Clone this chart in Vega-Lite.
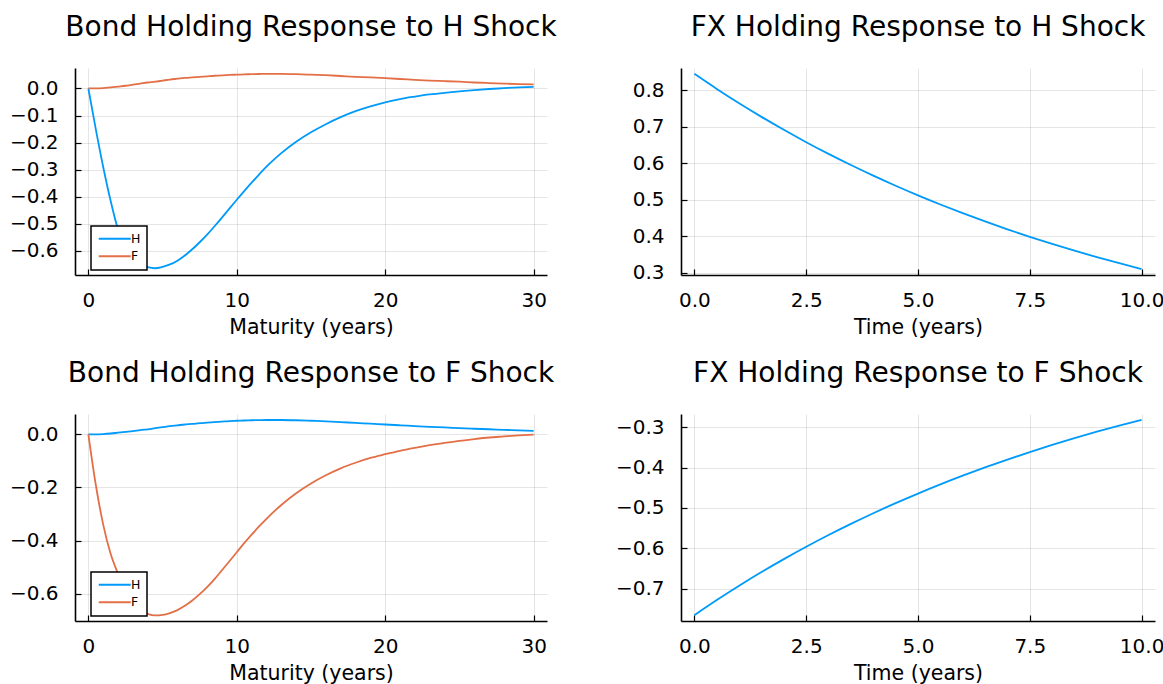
{
  "$schema": "https://vega.github.io/schema/vega-lite/v6.json",
  "autosize": {"type": "pad"},
  "padding": {"left": 9, "top": 13, "right": 0, "bottom": 0},
  "background": "white",
  "datasets": {
    "bondH": [
      {"m": 0, "H": 0, "F": 0},
      {"m": 0.5, "H": -0.15, "F": 0.0},
      {"m": 1, "H": -0.29, "F": 0.001},
      {"m": 1.5, "H": -0.415, "F": 0.004},
      {"m": 2, "H": -0.52, "F": 0.007},
      {"m": 2.5, "H": -0.577, "F": 0.01},
      {"m": 3, "H": -0.617, "F": 0.014},
      {"m": 3.5, "H": -0.645, "F": 0.018},
      {"m": 4, "H": -0.66, "F": 0.022},
      {"m": 4.5, "H": -0.664, "F": 0.025},
      {"m": 5, "H": -0.659, "F": 0.029},
      {"m": 5.5, "H": -0.65, "F": 0.033},
      {"m": 6, "H": -0.636, "F": 0.036},
      {"m": 6.5, "H": -0.617, "F": 0.039},
      {"m": 7, "H": -0.594, "F": 0.041},
      {"m": 7.5, "H": -0.568, "F": 0.043},
      {"m": 8, "H": -0.54, "F": 0.045},
      {"m": 8.5, "H": -0.509, "F": 0.047},
      {"m": 9, "H": -0.477, "F": 0.048},
      {"m": 9.5, "H": -0.444, "F": 0.05},
      {"m": 10, "H": -0.411, "F": 0.051},
      {"m": 10.5, "H": -0.379, "F": 0.052},
      {"m": 11, "H": -0.348, "F": 0.053},
      {"m": 11.5, "H": -0.318, "F": 0.0535},
      {"m": 12, "H": -0.289, "F": 0.054},
      {"m": 12.5, "H": -0.263, "F": 0.054},
      {"m": 13, "H": -0.239, "F": 0.054},
      {"m": 14, "H": -0.197, "F": 0.053},
      {"m": 15, "H": -0.162, "F": 0.051},
      {"m": 16, "H": -0.132, "F": 0.049},
      {"m": 17, "H": -0.106, "F": 0.046},
      {"m": 18, "H": -0.084, "F": 0.043},
      {"m": 19, "H": -0.066, "F": 0.041},
      {"m": 20, "H": -0.051, "F": 0.038},
      {"m": 21, "H": -0.039, "F": 0.035},
      {"m": 22, "H": -0.03, "F": 0.032},
      {"m": 23, "H": -0.022, "F": 0.029},
      {"m": 24, "H": -0.016, "F": 0.027},
      {"m": 25, "H": -0.011, "F": 0.025},
      {"m": 26, "H": -0.006, "F": 0.022},
      {"m": 27, "H": -0.002, "F": 0.02},
      {"m": 28, "H": 0.001, "F": 0.018},
      {"m": 29, "H": 0.004, "F": 0.016},
      {"m": 30, "H": 0.006, "F": 0.015}
    ],
    "bondF": [
      {"m": 0, "H": 0, "F": 0},
      {"m": 0.5, "H": 0.0, "F": -0.19},
      {"m": 1, "H": 0.001, "F": -0.34},
      {"m": 1.5, "H": 0.003, "F": -0.45},
      {"m": 2, "H": 0.006, "F": -0.525},
      {"m": 2.5, "H": 0.009, "F": -0.59},
      {"m": 3, "H": 0.012, "F": -0.632},
      {"m": 3.5, "H": 0.016, "F": -0.66},
      {"m": 4, "H": 0.019, "F": -0.676},
      {"m": 4.5, "H": 0.023, "F": -0.682},
      {"m": 5, "H": 0.027, "F": -0.68},
      {"m": 5.5, "H": 0.031, "F": -0.673},
      {"m": 6, "H": 0.034, "F": -0.662},
      {"m": 6.5, "H": 0.037, "F": -0.646},
      {"m": 7, "H": 0.039, "F": -0.626},
      {"m": 7.5, "H": 0.042, "F": -0.602},
      {"m": 8, "H": 0.044, "F": -0.575},
      {"m": 8.5, "H": 0.046, "F": -0.545},
      {"m": 9, "H": 0.048, "F": -0.512},
      {"m": 9.5, "H": 0.05, "F": -0.478},
      {"m": 10, "H": 0.051, "F": -0.444},
      {"m": 10.5, "H": 0.052, "F": -0.41},
      {"m": 11, "H": 0.053, "F": -0.378},
      {"m": 11.5, "H": 0.0535, "F": -0.347},
      {"m": 12, "H": 0.054, "F": -0.318},
      {"m": 13, "H": 0.054, "F": -0.266},
      {"m": 14, "H": 0.053, "F": -0.222},
      {"m": 15, "H": 0.051, "F": -0.185},
      {"m": 16, "H": 0.049, "F": -0.154},
      {"m": 17, "H": 0.046, "F": -0.128},
      {"m": 18, "H": 0.043, "F": -0.107},
      {"m": 19, "H": 0.04, "F": -0.089},
      {"m": 20, "H": 0.037, "F": -0.075},
      {"m": 21, "H": 0.034, "F": -0.062},
      {"m": 22, "H": 0.031, "F": -0.051},
      {"m": 23, "H": 0.028, "F": -0.041},
      {"m": 24, "H": 0.026, "F": -0.032},
      {"m": 25, "H": 0.023, "F": -0.025},
      {"m": 26, "H": 0.021, "F": -0.018},
      {"m": 27, "H": 0.019, "F": -0.012},
      {"m": 28, "H": 0.017, "F": -0.008},
      {"m": 29, "H": 0.015, "F": -0.004},
      {"m": 30, "H": 0.013, "F": -0.001}
    ],
    "fxH": [
      {"t": 0, "v": 0.845}, {"t": 0.5, "v": 0.8038}, {"t": 1, "v": 0.7646}, {"t": 1.5, "v": 0.7273},
      {"t": 2, "v": 0.6918}, {"t": 2.5, "v": 0.658}, {"t": 3, "v": 0.6259}, {"t": 3.5, "v": 0.5954},
      {"t": 4, "v": 0.5663}, {"t": 4.5, "v": 0.5387}, {"t": 5, "v": 0.5124}, {"t": 5.5, "v": 0.4874},
      {"t": 6, "v": 0.4636}, {"t": 6.5, "v": 0.441}, {"t": 7, "v": 0.4195}, {"t": 7.5, "v": 0.399},
      {"t": 8, "v": 0.3796}, {"t": 8.5, "v": 0.361}, {"t": 9, "v": 0.3434}, {"t": 9.5, "v": 0.3267},
      {"t": 10, "v": 0.3107}
    ],
    "fxF": [
      {"t": 0, "v": -0.765}, {"t": 0.5, "v": -0.7277}, {"t": 1, "v": -0.6923}, {"t": 1.5, "v": -0.6585},
      {"t": 2, "v": -0.6265}, {"t": 2.5, "v": -0.5959}, {"t": 3, "v": -0.5669}, {"t": 3.5, "v": -0.5393},
      {"t": 4, "v": -0.513}, {"t": 4.5, "v": -0.488}, {"t": 5, "v": -0.4643}, {"t": 5.5, "v": -0.4416},
      {"t": 6, "v": -0.4201}, {"t": 6.5, "v": -0.3997}, {"t": 7, "v": -0.3802}, {"t": 7.5, "v": -0.3617},
      {"t": 8, "v": -0.344}, {"t": 8.5, "v": -0.3273}, {"t": 9, "v": -0.3113}, {"t": 9.5, "v": -0.2962},
      {"t": 10, "v": -0.2818}
    ]
  },
  "config": {
    "font": "DejaVu Sans",
    "view": {"stroke": null},
    "axis": {
      "domainColor": "black",
      "domainWidth": 1.6,
      "tickColor": "black",
      "tickSize": -6,
      "tickWidth": 1.2,
      "gridColor": "black",
      "gridOpacity": 0.1,
      "gridWidth": 1,
      "labelFont": "DejaVu Sans",
      "labelFontSize": 20,
      "labelColor": "black",
      "titleFont": "DejaVu Sans",
      "titleFontSize": 20.5,
      "titleFontWeight": "normal",
      "titleColor": "black",
      "labelFlush": false,
      "labelOverlap": false
    },
    "axisX": {"labelPadding": 21, "titlePadding": 7, "labelAngle": 0},
    "axisY": {"labelPadding": 23},
    "title": {"font": "DejaVu Sans", "fontSize": 28, "fontWeight": "normal", "color": "black", "offset": 26.5, "baseline": "alphabetic", "frame": "group", "anchor": "middle"},
    "legend": {
      "orient": "none",
      "legendX": 16,
      "legendY": 158,
      "title": null,
      "strokeColor": "black",
      "strokeWidth": 1.5,
      "fillColor": "white",
      "padding": 6.5,
      "symbolType": "M-1,0H5.4",
      "symbolSize": 100,
      "symbolStrokeWidth": 1.8,
      "labelFont": "DejaVu Sans",
      "labelFontSize": 12.5,
      "labelColor": "black",
      "labelOffset": 21,
      "rowPadding": 4.5
    }
  },
  "columns": 2,
  "spacing": {"row": 139, "column": 134},
  "bounds": "flush",
  "resolve": {"scale": {"color": "independent", "x": "independent", "y": "independent"}, "legend": {"color": "independent"}},
  "concat": [
    {
      "width": 472, "height": 207,
      "title": {"text": "Bond Holding Response to H Shock"},
      "data": {"name": "bondH"},
      "transform": [{"fold": ["H", "F"], "as": ["series", "value"]}],
      "mark": {"type": "line", "strokeWidth": 1.8, "interpolate": "monotone"},
      "encoding": {
        "x": {"field": "m", "type": "quantitative", "scale": {"domain": [-0.9, 30.9], "nice": false, "zero": false}, "axis": {"title": "Maturity (years)", "values": [0, 10, 20, 30]}},
        "y": {"field": "value", "type": "quantitative", "scale": {"domain": [-0.689, 0.0756], "nice": false, "zero": false}, "axis": {"title": null, "values": [-0.6, -0.5, -0.4, -0.3, -0.2, -0.1, 0], "format": ".1f"}},
        "color": {"field": "series", "type": "nominal", "scale": {"domain": ["H", "F"], "range": ["#009AFA", "#E36F47"]}}
      }
    },
    {
      "width": 474, "height": 207,
      "title": {"text": "FX Holding Response to H Shock"},
      "data": {"name": "fxH"},
      "mark": {"type": "line", "strokeWidth": 1.8, "color": "#009AFA", "interpolate": "monotone"},
      "encoding": {
        "x": {"field": "t", "type": "quantitative", "scale": {"domain": [-0.3, 10.3], "nice": false, "zero": false}, "axis": {"title": "Time (years)", "values": [0, 2.5, 5, 7.5, 10], "format": ".1f"}},
        "y": {"field": "v", "type": "quantitative", "scale": {"domain": [0.2945, 0.861], "nice": false, "zero": false}, "axis": {"title": null, "values": [0.3, 0.4, 0.5, 0.6, 0.7, 0.8], "format": ".1f"}}
      }
    },
    {
      "width": 472, "height": 207,
      "title": {"text": "Bond Holding Response to F Shock"},
      "data": {"name": "bondF"},
      "transform": [{"fold": ["H", "F"], "as": ["series", "value"]}],
      "mark": {"type": "line", "strokeWidth": 1.8, "interpolate": "monotone"},
      "encoding": {
        "x": {"field": "m", "type": "quantitative", "scale": {"domain": [-0.9, 30.9], "nice": false, "zero": false}, "axis": {"title": "Maturity (years)", "values": [0, 10, 20, 30]}},
        "y": {"field": "value", "type": "quantitative", "scale": {"domain": [-0.703, 0.0765], "nice": false, "zero": false}, "axis": {"title": null, "values": [-0.6, -0.4, -0.2, 0], "format": ".1f"}},
        "color": {"field": "series", "type": "nominal", "scale": {"domain": ["H", "F"], "range": ["#009AFA", "#E36F47"]}}
      }
    },
    {
      "width": 474, "height": 207,
      "title": {"text": "FX Holding Response to F Shock"},
      "data": {"name": "fxF"},
      "mark": {"type": "line", "strokeWidth": 1.8, "color": "#009AFA", "interpolate": "monotone"},
      "encoding": {
        "x": {"field": "t", "type": "quantitative", "scale": {"domain": [-0.3, 10.3], "nice": false, "zero": false}, "axis": {"title": "Time (years)", "values": [0, 2.5, 5, 7.5, 10], "format": ".1f"}},
        "y": {"field": "v", "type": "quantitative", "scale": {"domain": [-0.7795, -0.2675], "nice": false, "zero": false}, "axis": {"title": null, "values": [-0.7, -0.6, -0.5, -0.4, -0.3], "format": ".1f"}}
      }
    }
  ]
}
